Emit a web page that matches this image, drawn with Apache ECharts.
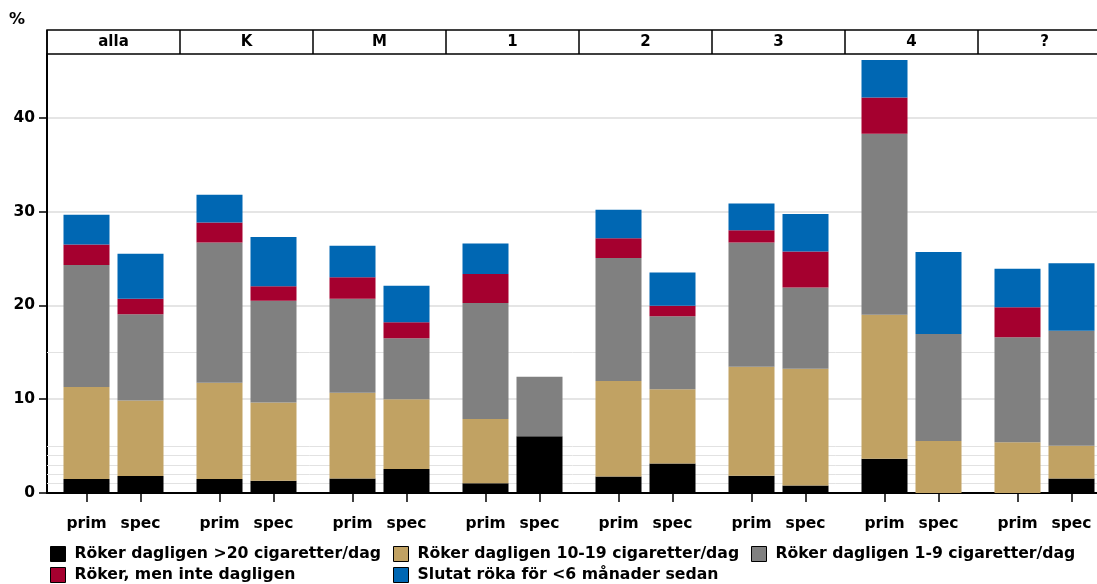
<!DOCTYPE html>
<html><head><meta charset="utf-8">
<script src="https://cdn.jsdelivr.net/npm/echarts@6/dist/echarts.min.js"></script>
<style>html,body{margin:0;padding:0;background:#fff}#c{width:1097px;height:584px}</style>
</head><body><div id="c"></div>
<script>
// ---- data ----
const panels = ['alla', 'K', 'M', '1', '2', '3', '4', '?'];
const groups = ['prim', 'spec'];
const seriesNames = [
  'Röker dagligen >20 cigaretter/dag',
  'Röker dagligen 10-19 cigaretter/dag',
  'Röker dagligen 1-9 cigaretter/dag',
  'Röker, men inte dagligen',
  'Slutat röka för <6 månader sedan'
];
const over20Prim  = [1.5, 1.5, 1.55, 1.05, 1.75, 1.85, 3.65, 0];
const over20Spec  = [1.8, 1.3, 2.55, 6.05, 3.15, 0.8, 0, 1.55];
const d10to19Prim = [9.8, 10.25, 9.15, 6.85, 10.2, 11.6, 15.35, 5.4];
const d10to19Spec = [8.05, 8.35, 7.45, 0, 7.9, 12.45, 5.55, 3.5];
const d1to9Prim   = [13.0, 14.95, 10.0, 12.35, 13.1, 13.25, 19.3, 11.2];
const d1to9Spec   = [9.2, 10.85, 6.5, 6.35, 7.8, 8.65, 11.4, 12.25];
const notDailyPrim = [2.2, 2.15, 2.3, 3.1, 2.1, 1.3, 3.85, 3.2];
const notDailySpec = [1.65, 1.55, 1.7, 0, 1.1, 3.85, 0, 0];
const quitPrim    = [3.15, 2.95, 3.35, 3.25, 3.05, 2.85, 4.0, 4.1];
const quitSpec    = [4.8, 5.25, 3.9, 0, 3.55, 4.0, 8.75, 7.2];
const yTicks = [0, 10, 20, 30, 40];
const refLines = [1, 2, 3, 4, 5, 15];
const yMax = 46.8;

// ---- styling ----
const colors = ['#000000', '#c1a263', '#808080', '#a5002f', '#0067b3'];
const FONT = 'DejaVu Sans';
const PW = 133, L = 47;
const segs = [
  [over20Prim, over20Spec], [d10to19Prim, d10to19Spec], [d1to9Prim, d1to9Spec],
  [notDailyPrim, notDailySpec], [quitPrim, quitSpec]
];
const txt = (size) => ({ fontFamily: FONT, fontWeight: 'bold', fontSize: size, color: '#000' });

const grids = [
  { left: L, top: 30, height: 24, width: PW * 8, show: true, borderColor: '#000', borderWidth: 1.5, outerBoundsMode: 'none' },
  { left: L, top: 54, bottom: 91, width: PW * 8, outerBoundsMode: 'none' }
];
const xAxes = [
  { gridIndex: 0, type: 'category', data: panels, axisLine: { show: false },
    axisTick: { show: true, inside: true, length: 24, lineStyle: { color: '#000', width: 1.5 } },
    axisLabel: Object.assign({ inside: true, margin: 4 }, txt(15)) },
  { gridIndex: 1, type: 'category', data: panels,
    axisLine: { onZero: false, lineStyle: { color: '#000', width: 2 } },
    axisTick: { show: false }, axisLabel: { show: false } }
];
const yAxes = [
  { gridIndex: 0, type: 'value', min: 0, max: 1, show: false },
  { gridIndex: 1, type: 'value', min: 0, max: yMax, interval: 10,
    axisLine: { show: true, lineStyle: { color: '#000', width: 2 } },
    axisTick: { show: true, length: 8, customValues: yTicks, lineStyle: { color: '#000', width: 1.5 } },
    axisLabel: Object.assign({ margin: 12, customValues: yTicks }, txt(15.5)),
    splitLine: { show: true, lineStyle: { color: '#dcdcdc', width: 1.5 } } }
];
const series = [{
  type: 'line', xAxisIndex: 1, yAxisIndex: 1, data: [], silent: true,
  markLine: { silent: true, symbol: 'none', z: 1, animation: false, label: { show: false },
    lineStyle: { color: '#e2e2e2', width: 1, type: 'solid' },
    data: refLines.map(v => ({ yAxis: v })) }
}];
panels.forEach((p, i) => {
  grids.push({ left: L + PW * i + 12.5, top: 54, bottom: 91, width: 108, outerBoundsMode: 'none' });
  xAxes.push({ gridIndex: i + 2, type: 'category', data: groups,
    axisLine: { show: true, onZero: false, lineStyle: { color: '#000', width: 2 } },
    axisTick: { show: true, alignWithLabel: true, length: 9, lineStyle: { color: '#000', width: 1.5 } },
    axisLabel: Object.assign({ margin: 23 }, txt(15.5)) });
  yAxes.push({ gridIndex: i + 2, type: 'value', min: 0, max: yMax, show: false, splitLine: { show: false } });
  segs.forEach((s, k) => {
    series.push({ type: 'bar', name: seriesNames[k], stack: 'p' + i, xAxisIndex: i + 2, yAxisIndex: i + 2,
      barWidth: 46, data: [s[0][i], s[1][i]], itemStyle: { color: colors[k] } });
  });
});
const legendBase = { orient: 'vertical', top: 546, padding: 0, itemWidth: 15, itemHeight: 15, itemGap: 5,
  selectedMode: false, icon: 'rect', itemStyle: { borderColor: '#000', borderWidth: 1 },
  textStyle: Object.assign({ padding: [0, 0, 0, 4] }, txt(15.7)) };

const chart = echarts.init(document.getElementById('c'));
chart.setOption({
  animation: false,
  color: colors,
  title: { text: '%', left: 4, top: 7, padding: 5, textStyle: txt(16) },
  grid: grids, xAxis: xAxes, yAxis: yAxes, series: series,
  legend: [
    Object.assign({ left: 50, data: [seriesNames[0], seriesNames[3]] }, legendBase),
    Object.assign({ left: 393, data: [seriesNames[1], seriesNames[4]] }, legendBase),
    Object.assign({ left: 751, data: [seriesNames[2]] }, legendBase)
  ]
});
</script></body></html>
